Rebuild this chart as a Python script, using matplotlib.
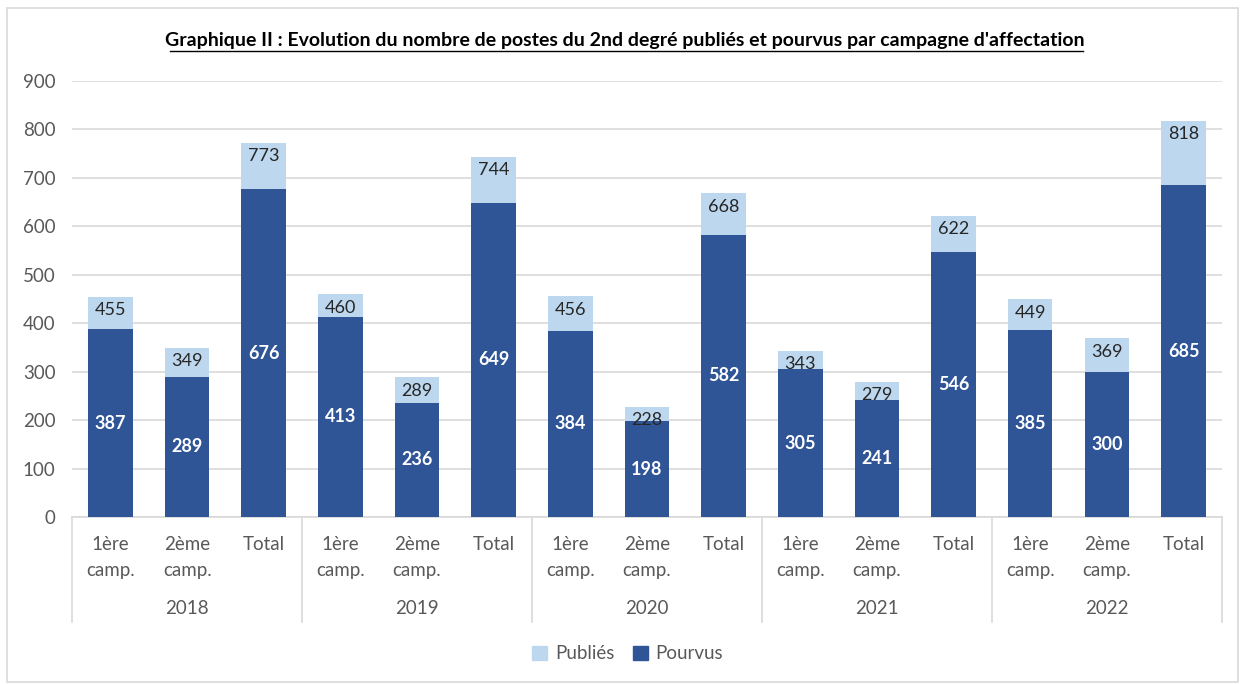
import matplotlib
matplotlib.use('Agg')
import matplotlib.pyplot as plt
import matplotlib.transforms as mtransforms
from matplotlib.patches import Rectangle, Patch
import numpy as np

plt.rcParams['font.family'] = ['Lato', 'DejaVu Sans']

# Data
years = ['2018', '2019', '2020', '2021', '2022']
campaigns = ['1ère\ncamp.', '2ème\ncamp.', 'Total']
publies = [455, 349, 773, 460, 289, 744, 456, 228, 668, 343, 279, 622, 449, 369, 818]
pourvus = [387, 289, 676, 413, 236, 649, 384, 198, 582, 305, 241, 546, 385, 300, 685]

dark = '#2F5597'
light = '#BDD7EE'
grey_txt = '#595959'
grid_col = '#D9D9D9'

fig = plt.figure(figsize=(12.43, 6.84), dpi=100)
ax = fig.add_axes([0.058, 0.2442, 0.925, 0.6374])

x = np.arange(len(publies))
w = 0.58
ax.bar(x, publies, width=w, color=light, zorder=2, label='Publiés')
ax.bar(x, pourvus, width=w, color=dark, zorder=3, label='Pourvus')

# labels
for xi, p, q in zip(x, publies, pourvus):
    ax.annotate(str(p), (xi, p), xytext=(0, -4), textcoords='offset points',
                ha='center', va='top', fontsize=13, color='#262626', zorder=4)
    ax.text(xi, q / 2, str(q), ha='center', va='center', fontsize=13,
            color='white', fontweight='bold', zorder=4)

ax.set_ylim(0, 900)
ax.set_yticks(range(0, 901, 100))
ax.set_xlim(-0.5, len(publies) - 0.5)
ax.yaxis.grid(True, color=grid_col, linewidth=1.2, zorder=0)
ax.set_axisbelow(True)
for s in ['top', 'right', 'left']:
    ax.spines[s].set_visible(False)
ax.spines['bottom'].set_color(grid_col)
ax.spines['bottom'].set_linewidth(1.2)
ax.tick_params(axis='y', length=0, labelsize=13.5, labelcolor=grey_txt, pad=12)
ax.tick_params(axis='x', length=0, labelsize=13.5, labelcolor=grey_txt, pad=14)

ax.set_xticks(x)
ax.set_xticklabels(campaigns * len(years), linespacing=1.6)

trans = mtransforms.blended_transform_factory(ax.transData, ax.transAxes)
for i, yr in enumerate(years):
    ax.text(3 * i + 1, -0.21, yr, transform=trans, ha='center', va='center',
            fontsize=13.5, color=grey_txt)
for b in np.arange(-0.5, len(publies), 3):
    ax.plot([b, b], [0, -0.24], transform=trans, color=grid_col, lw=1.2,
            clip_on=False)

fig.text(0.503, 0.941, "Graphique II : Evolution du nombre de postes du 2nd degré publiés et pourvus par campagne d'affectation",
         ha='center', va='center', fontsize=14, fontweight='bold', color='black')
# underline
fig.add_artist(plt.Line2D([0.137, 0.871], [0.926, 0.926], color='black', lw=1))

fig.legend(handles=[Patch(color=light, label='Publiés'), Patch(color=dark, label='Pourvus')],
           loc='center', bbox_to_anchor=(0.505, 0.044), ncol=2, frameon=False,
           fontsize=13.5, labelcolor=grey_txt, handlelength=0.8, handleheight=0.8,
           handletextpad=0.4, columnspacing=1.0)

fig.add_artist(Rectangle((0.006, 0.003), 0.99, 0.985, transform=fig.transFigure,
                         fill=False, edgecolor='#D9D9D9', lw=1.2))

fig.savefig('out.png', dpi=100)
